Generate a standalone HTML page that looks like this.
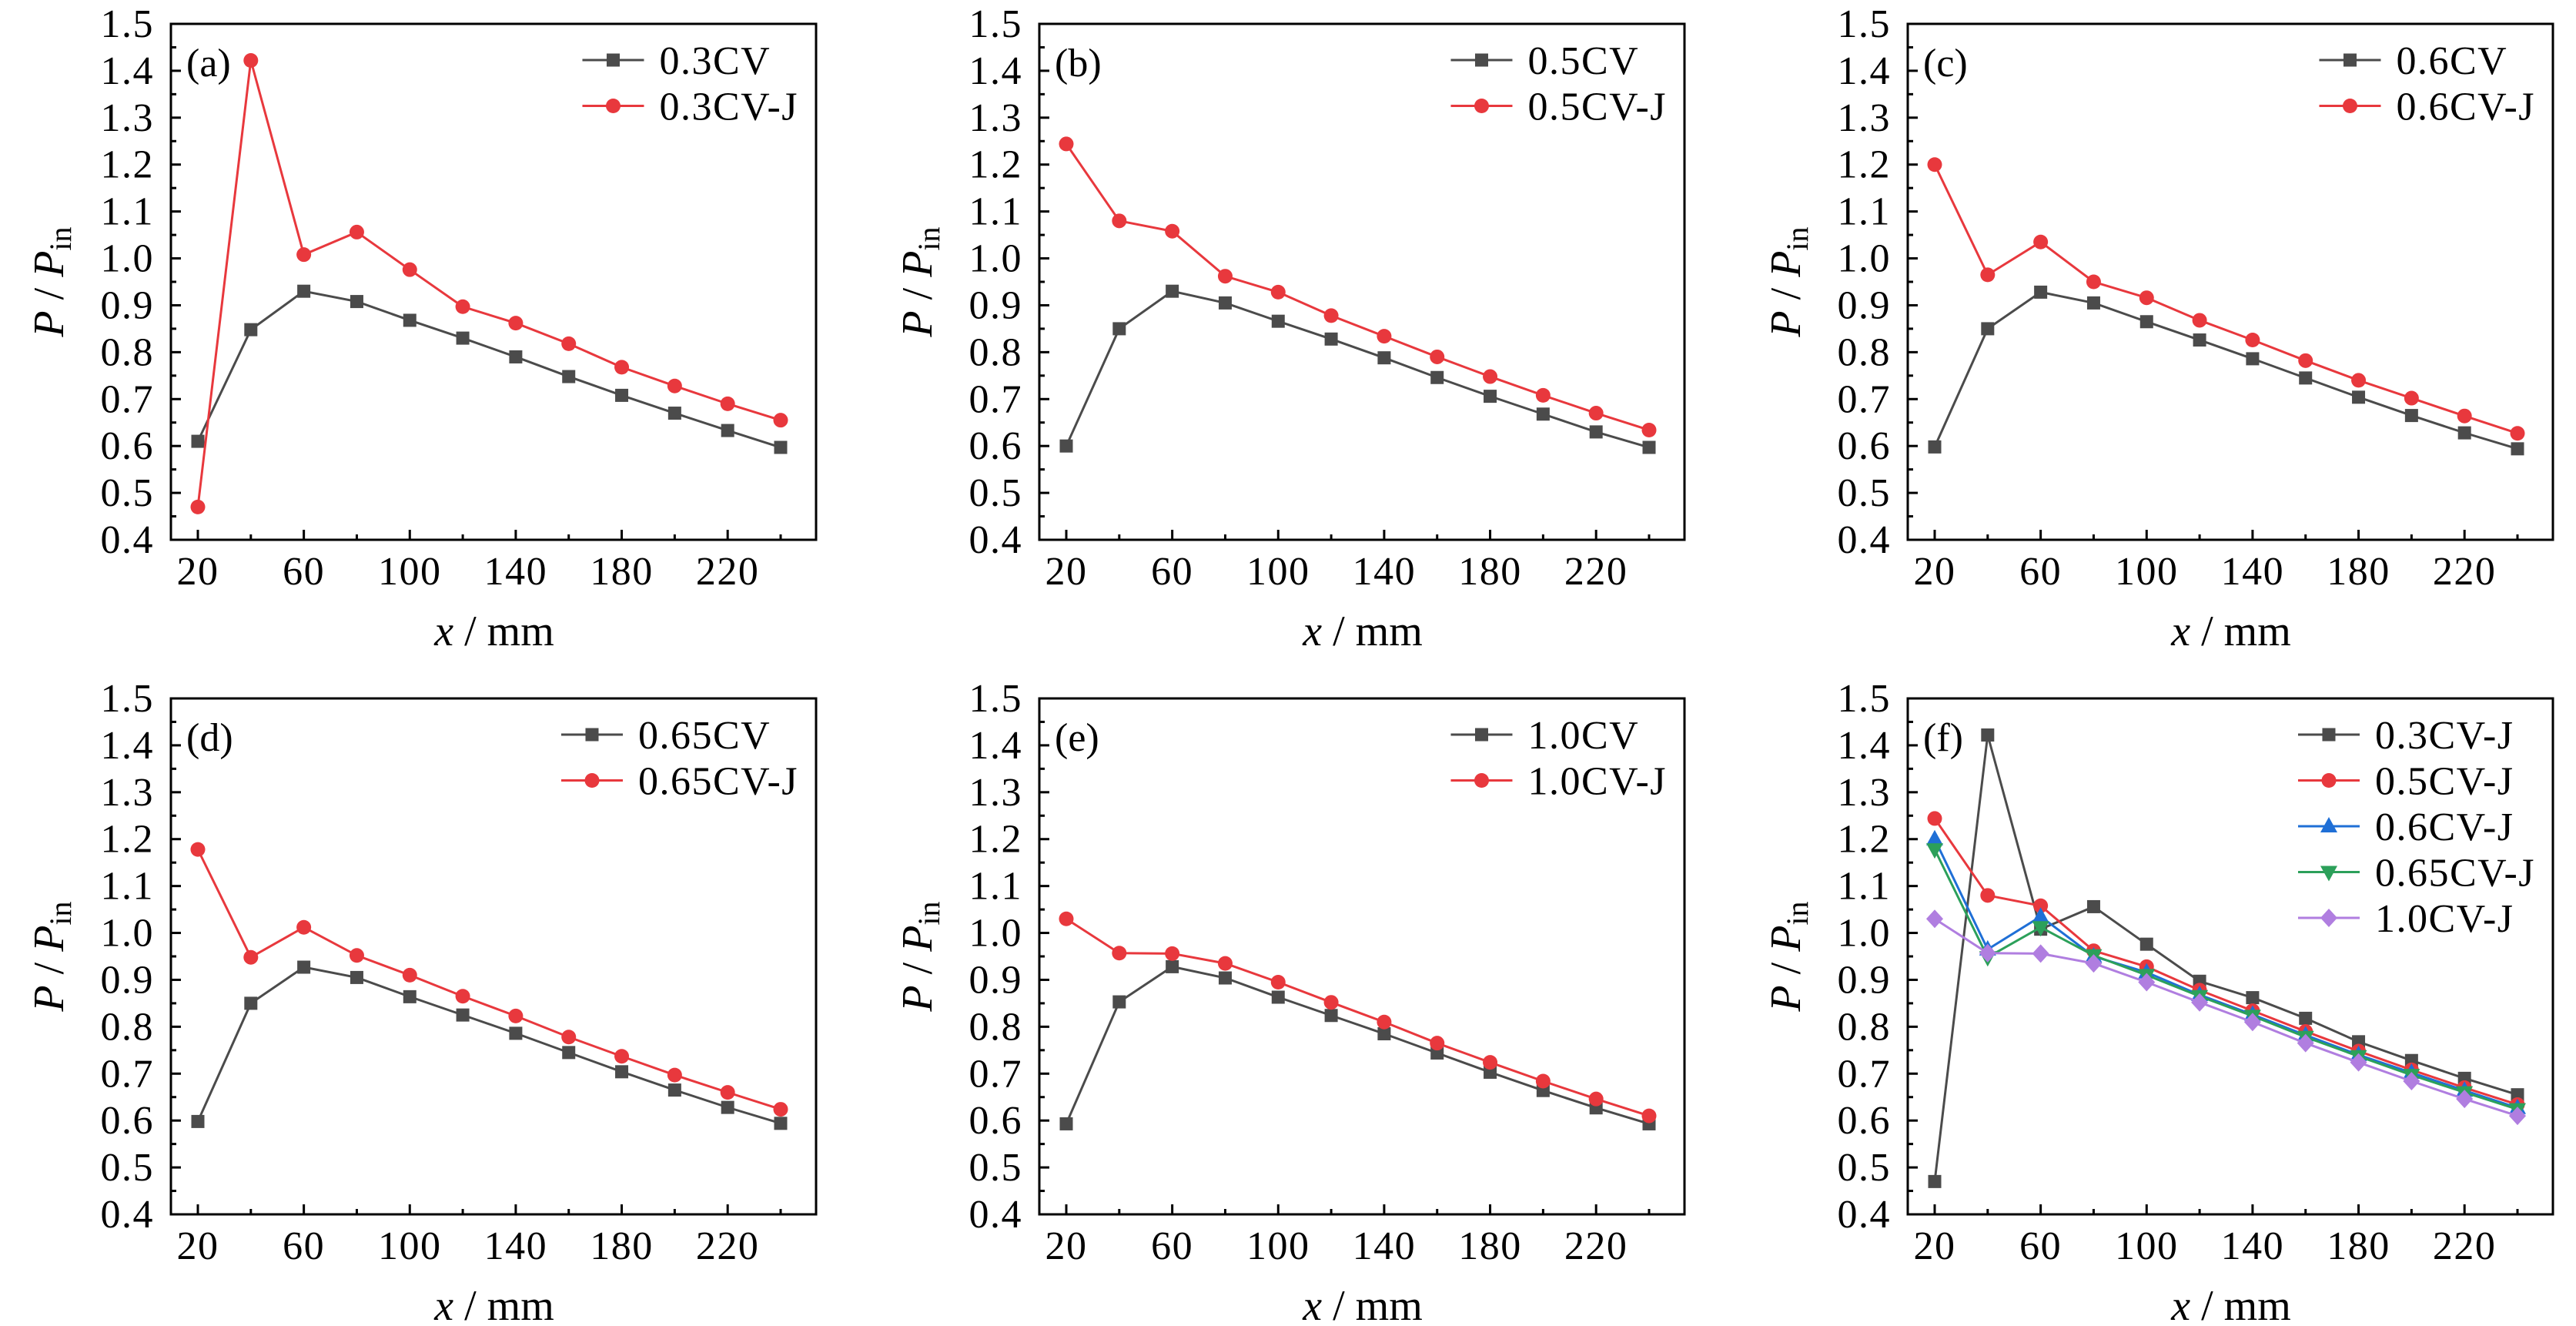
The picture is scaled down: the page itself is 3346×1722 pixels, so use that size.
<!DOCTYPE html>
<html><head><meta charset="utf-8">
<style>
html,body{margin:0;padding:0;background:#fff;}
svg{display:block;}
text{font-family:"Liberation Serif",serif;fill:#000;}
</style></head>
<body>
<svg id="fig" width="3346" height="1722" viewBox="0 0 3346 1722" xmlns="http://www.w3.org/2000/svg"></svg>
<script>
const xValues = [20,40,60,80,100,120,140,160,180,200,220,240];
const xTickLabels = [20,60,100,140,180,220];
const yTickLabels = ["0.4","0.5","0.6","0.7","0.8","0.9","1.0","1.1","1.2","1.3","1.4","1.5"];
const cvA = [0.61,0.848,0.93,0.908,0.868,0.83,0.79,0.748,0.708,0.67,0.633,0.597];
const cvB = [0.60,0.85,0.93,0.905,0.866,0.828,0.788,0.746,0.706,0.668,0.63,0.597];
const cvC = [0.598,0.85,0.928,0.905,0.865,0.826,0.786,0.745,0.704,0.665,0.628,0.594];
const cvD = [0.598,0.85,0.927,0.905,0.864,0.825,0.786,0.745,0.704,0.665,0.628,0.594];
const cvE = [0.593,0.853,0.928,0.904,0.863,0.824,0.785,0.744,0.703,0.664,0.627,0.593];
const cvJ03 = [0.47,1.422,1.008,1.056,0.976,0.897,0.862,0.818,0.768,0.728,0.69,0.655];
const cvJ05 = [1.244,1.08,1.058,0.962,0.928,0.878,0.834,0.79,0.748,0.708,0.67,0.634];
const cvJ06 = [1.2,0.965,1.035,0.95,0.916,0.868,0.826,0.782,0.74,0.702,0.664,0.627];
const cvJ065 = [1.178,0.948,1.012,0.952,0.91,0.865,0.823,0.778,0.737,0.697,0.66,0.624];
const cvJ10 = [1.03,0.957,0.956,0.935,0.895,0.852,0.81,0.765,0.724,0.684,0.646,0.61];

const NS="http://www.w3.org/2000/svg";
const svg=document.getElementById('fig');
const C={k:"#4b4b4b",r:"#e8383d",b:"#1f6fd6",g:"#2ca05a",p:"#b07ee0"};
function mk(tag,attrs,parent){const e=document.createElementNS(NS,tag);for(const k in attrs)e.setAttribute(k,attrs[k]);parent.appendChild(e);return e;}

const panels=[
 {id:"a",L:222,T:31,series:[["0.3CV",cvA,C.k,"sq"],["0.3CV-J",cvJ03,C.r,"ci"]]},
 {id:"b",L:1350,T:31,series:[["0.5CV",cvB,C.k,"sq"],["0.5CV-J",cvJ05,C.r,"ci"]]},
 {id:"c",L:2478,T:31,series:[["0.6CV",cvC,C.k,"sq"],["0.6CV-J",cvJ06,C.r,"ci"]]},
 {id:"d",L:222,T:907,series:[["0.65CV",cvD,C.k,"sq"],["0.65CV-J",cvJ065,C.r,"ci"]]},
 {id:"e",L:1350,T:907,series:[["1.0CV",cvE,C.k,"sq"],["1.0CV-J",cvJ10,C.r,"ci"]]},
 {id:"f",L:2478,T:907,series:[["0.3CV-J",cvJ03,C.k,"sq"],["0.5CV-J",cvJ05,C.r,"ci"],["0.6CV-J",cvJ06,C.b,"tu"],["0.65CV-J",cvJ065,C.g,"td"],["1.0CV-J",cvJ10,C.p,"di"]]}
];
const W=838,H=670;
const FS=52, LS="1.5px";

function marker(g,shape,x,y,col){
  let e;
  if(shape==="sq") e=mk('rect',{x:x-8.5,y:y-8.5,width:17,height:17,fill:col},g);
  else if(shape==="ci") e=mk('circle',{cx:x,cy:y,r:9.5,fill:col},g);
  else if(shape==="tu") e=mk('polygon',{points:`${x},${y-12} ${x+11},${y+8} ${x-11},${y+8}`,fill:col},g);
  else if(shape==="td") e=mk('polygon',{points:`${x},${y+12} ${x+11},${y-8} ${x-11},${y-8}`,fill:col},g);
  else e=mk('polygon',{points:`${x},${y-12} ${x+11},${y} ${x},${y+12} ${x-11},${y}`,fill:col},g);
  return e;
}

panels.forEach(p=>{
  const L=p.L,T=p.T,B=T+H;
  const xs=v=>L+35+(v-20)*(757/220);
  const ys=v=>B-(v-0.4)*(H/1.1);
  const g=mk('g',{},svg);
  
  
  for(let i=0;i<=22;i++){
    const v=0.4+i*0.05, y=ys(v), len=(i%2===0)?13:7;
    const t=mk('line',{x1:L,y1:y,x2:L+len,y2:y,stroke:"#000","stroke-width":3},g);
    
    
  }
  yTickLabels.forEach((lab,i)=>{
    const t=mk('text',{x:L-22,y:ys(0.4+i*0.1)+17,"font-size":FS,"letter-spacing":LS,"text-anchor":"end"},g);
    t.textContent=lab;
    
    
  });
  xValues.forEach((v,i)=>{
    const x=xs(v), len=(i%2===0)?13:7;
    const t=mk('line',{x1:x,y1:B,x2:x,y2:B-len,stroke:"#000","stroke-width":3},g);
    
    
  });
  xTickLabels.forEach(v=>{
    const t=mk('text',{x:xs(v),y:B+58,"font-size":FS,"letter-spacing":LS,"text-anchor":"middle"},g);
    t.textContent=v;
    
    
  });
  const fr=mk('rect',{x:L,y:T,width:W,height:H,fill:"none",stroke:"#000","stroke-width":3},g);
  
  
  const xt=mk('text',{x:L+420,y:B+137,"font-size":56,"text-anchor":"middle"},g);
  xt.innerHTML='<tspan font-style="italic">x</tspan> / mm';
  
  
  const yt=mk('text',{x:0,y:0,"font-size":56,"text-anchor":"middle",transform:`translate(${L-140},${T+H/2}) rotate(-90)`},g);
  yt.innerHTML='<tspan font-style="italic">P</tspan> / <tspan font-style="italic">P</tspan><tspan font-size="40" dy="10">in</tspan>';
  
  
  const pl=mk('text',{x:L+20,y:T+68,"font-size":FS},g);
  pl.textContent='('+p.id+')';
  
  
  p.series.forEach(s=>{
    const sg=mk('g',{},g);
    
    
    const pts=xValues.map((v,i)=>xs(v)+','+ys(s[1][i])).join(' ');
    const pl2=mk('polyline',{points:pts,fill:"none",stroke:s[2],"stroke-width":3},sg);
    
    
    xValues.forEach((v,i)=>{
      const m=marker(sg,s[3],xs(v),ys(s[1][i]),s[2]);
      
      
    });
  });
  const lg=mk('g',{},g);
  
  
  const texts=[];
  let maxw=0;
  p.series.forEach((s,i)=>{
    const yy=T+47+i*59.5;
    const t=mk('text',{x:0,y:yy+18,"font-size":FS,"letter-spacing":LS},lg);
    t.textContent=s[0];
    
    
    texts.push(t);
    maxw=Math.max(maxw,t.getComputedTextLength());
  });
  const tx=L+815-maxw;
  p.series.forEach((s,i)=>{
    const yy=T+47+i*59.5;
    texts[i].setAttribute('x',tx);
    const ln=mk('line',{x1:tx-100,y1:yy,x2:tx-20,y2:yy,stroke:s[2],"stroke-width":3},lg);
    
    
    const m=marker(lg,s[3],tx-60,yy,s[2]);
    
    
  });
});
</script>
</body></html>
